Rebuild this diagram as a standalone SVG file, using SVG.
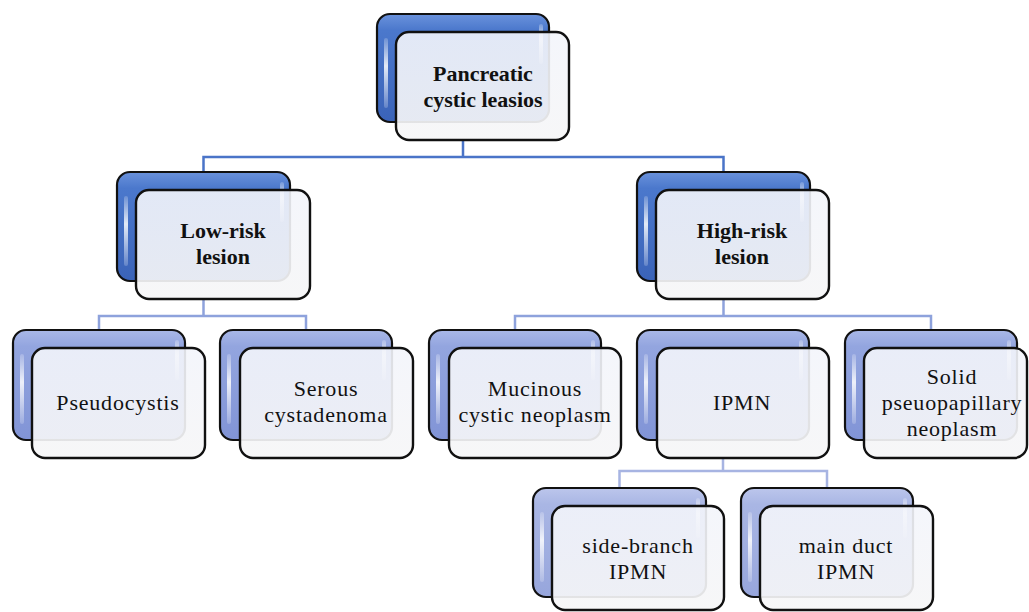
<svg xmlns="http://www.w3.org/2000/svg" width="1029" height="612" viewBox="0 0 1029 612">
<defs>
<linearGradient id="gDark" x1="0" y1="0" x2="0" y2="1">
<stop offset="0" stop-color="#6a92dc"/><stop offset="0.15" stop-color="#4b78cc"/><stop offset="1" stop-color="#3a63b8"/>
</linearGradient>
<linearGradient id="gMid" x1="0" y1="0" x2="0" y2="1">
<stop offset="0" stop-color="#a9b8e8"/><stop offset="0.15" stop-color="#93a5df"/><stop offset="1" stop-color="#8194d6"/>
</linearGradient>
<linearGradient id="gLight" x1="0" y1="0" x2="0" y2="1">
<stop offset="0" stop-color="#bcc6ec"/><stop offset="0.15" stop-color="#a9b6e4"/><stop offset="1" stop-color="#97a6dc"/>
</linearGradient>
<linearGradient id="gHi" x1="0" y1="0" x2="0" y2="1">
<stop offset="0" stop-color="#ffffff" stop-opacity="0.2"/><stop offset="0.4" stop-color="#ffffff" stop-opacity="0.85"/><stop offset="1" stop-color="#ffffff" stop-opacity="0.2"/>
</linearGradient>
<linearGradient id="gFront" x1="0" y1="0" x2="0" y2="1">
<stop offset="0" stop-color="#f3f5fb" stop-opacity="0.9"/><stop offset="1" stop-color="#f6f6f7" stop-opacity="0.92"/>
</linearGradient>
</defs>
<style>
.back{stroke:#111;stroke-width:2.2}
.d{fill:url(#gDark)}
.m{fill:url(#gMid)}
.l{fill:url(#gLight)}
.front{fill:url(#gFront);stroke:#111;stroke-width:2.4}
.hi{fill:url(#gHi)}
.t{font-family:"Liberation Serif","Times New Roman",serif;font-size:22px;letter-spacing:0.8px;fill:#111;text-anchor:middle}
.b{font-weight:bold;letter-spacing:0}
.c1{fill:none;stroke:#4a74c8;stroke-width:2.5}
.c2{fill:none;stroke:#8ea2dc;stroke-width:2.5}
.c3{fill:none;stroke:#a7b4e2;stroke-width:2.5}
</style>
<g id="connectors">
<path class="c1" d="M463 140 V157 M203.5 172 V157 H723.5 V172"/>
<path class="c2" d="M203.5 299 V316 M99 330 V316 H306 V330"/>
<path class="c2" d="M723.5 299 V316 M515 330 V316 H931 V330"/>
<path class="c3" d="M723 458 V471 M619.5 488 V471 H827 V488"/>
</g>
<g id="n-root">
<rect class="back d" x="377" y="14" width="172" height="108" rx="13"/>
<rect class="hi" x="384" y="38" width="4" height="70" rx="2"/><rect class="hi" x="539" y="24" width="4" height="40" rx="2"/>
<rect class="front" x="396" y="32" width="173" height="108" rx="13"/>
<text class="t b" x="483" y="81">Pancreatic</text><text class="t b" x="483" y="107">cystic leasios</text>
</g>
<g id="n-low">
<rect class="back d" x="117" y="172" width="173" height="109" rx="13"/>
<rect class="hi" x="124" y="196" width="4" height="70" rx="2"/><rect class="hi" x="280" y="182" width="4" height="40" rx="2"/>
<rect class="front" x="136" y="190" width="174" height="109" rx="13"/>
<text class="t b" x="223" y="238">Low-risk</text><text class="t b" x="223" y="264">lesion</text>
</g>
<g id="n-high">
<rect class="back d" x="637" y="172" width="173" height="109" rx="13"/>
<rect class="hi" x="644" y="196" width="4" height="70" rx="2"/><rect class="hi" x="800" y="182" width="4" height="40" rx="2"/>
<rect class="front" x="656" y="190" width="173" height="109" rx="13"/>
<text class="t b" x="742" y="238">High-risk</text><text class="t b" x="742" y="264">lesion</text>
</g>
<g id="n-pseudocystis">
<rect class="back m" x="13" y="330" width="172" height="110" rx="13"/>
<rect class="hi" x="20" y="354" width="4" height="70" rx="2"/><rect class="hi" x="175" y="340" width="4" height="40" rx="2"/>
<rect class="front" x="32" y="348" width="173" height="110" rx="13"/>
<text class="t" x="118" y="410">Pseudocystis</text>
</g>
<g id="n-serous">
<rect class="back m" x="220" y="330" width="172" height="110" rx="13"/>
<rect class="hi" x="227" y="354" width="4" height="70" rx="2"/><rect class="hi" x="382" y="340" width="4" height="40" rx="2"/>
<rect class="front" x="240" y="348" width="173" height="110" rx="13"/>
<text class="t" x="326" y="396">Serous</text><text class="t" x="326" y="422">cystadenoma</text>
</g>
<g id="n-mucinous">
<rect class="back m" x="429" y="330" width="172" height="110" rx="13"/>
<rect class="hi" x="436" y="354" width="4" height="70" rx="2"/><rect class="hi" x="591" y="340" width="4" height="40" rx="2"/>
<rect class="front" x="449" y="348" width="172" height="110" rx="13"/>
<text class="t" x="535" y="396">Mucinous</text><text class="t" x="535" y="422">cystic neoplasm</text>
</g>
<g id="n-ipmn">
<rect class="back m" x="637" y="330" width="172" height="110" rx="13"/>
<rect class="hi" x="644" y="354" width="4" height="70" rx="2"/><rect class="hi" x="799" y="340" width="4" height="40" rx="2"/>
<rect class="front" x="657" y="348" width="172" height="110" rx="13"/>
<text class="t" x="742" y="410">IPMN</text>
</g>
<g id="n-solid">
<rect class="back m" x="845" y="330" width="172" height="110" rx="13"/>
<rect class="hi" x="852" y="354" width="4" height="70" rx="2"/><rect class="hi" x="1007" y="340" width="4" height="40" rx="2"/>
<rect class="front" x="864" y="348" width="163" height="110" rx="13"/>
<text class="t" x="952" y="384">Solid</text><text class="t" x="952" y="410">pseuopapillary</text><text class="t" x="952" y="436">neoplasm</text>
</g>
<g id="n-side">
<rect class="back l" x="533" y="488" width="173" height="109" rx="13"/>
<rect class="hi" x="540" y="512" width="4" height="70" rx="2"/><rect class="hi" x="696" y="498" width="4" height="40" rx="2"/>
<rect class="front" x="552" y="506" width="172" height="104" rx="13"/>
<text class="t" x="638" y="553">side-branch</text><text class="t" x="638" y="579">IPMN</text>
</g>
<g id="n-main">
<rect class="back l" x="741" y="488" width="172" height="109" rx="13"/>
<rect class="hi" x="748" y="512" width="4" height="70" rx="2"/><rect class="hi" x="903" y="498" width="4" height="40" rx="2"/>
<rect class="front" x="760" y="506" width="173" height="104" rx="13"/>
<text class="t" x="846" y="553">main duct</text><text class="t" x="846" y="579">IPMN</text>
</g>
</svg>
